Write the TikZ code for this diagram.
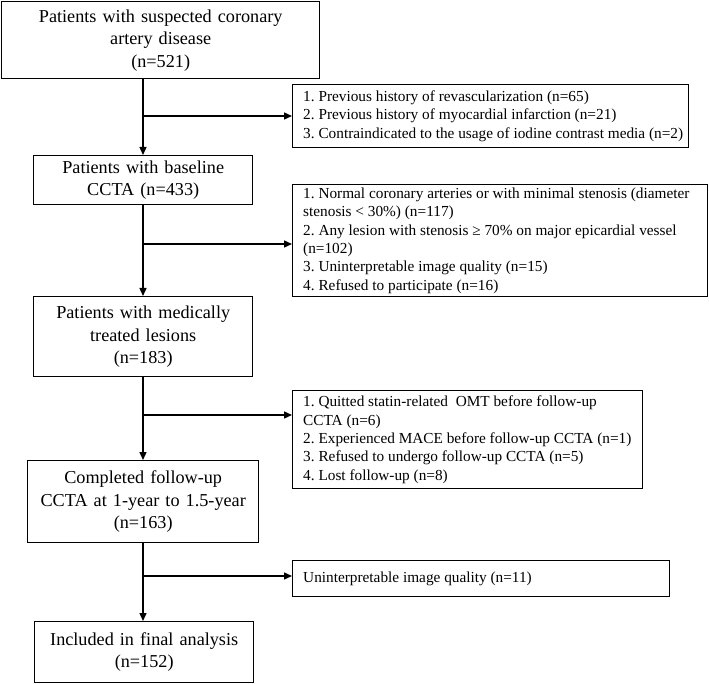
\documentclass[tikz,border=0pt]{standalone}
\usepackage{fontspec}
\setmainfont{Liberation Serif}
\usetikzlibrary{arrows.meta}
\tikzset{
  mainbox/.style={draw, line width=1.4pt, anchor=north west, align=center, inner xsep=4pt, inner ysep=0pt, font=\fontsize{18.2}{22.5}\selectfont\frenchspacing},
  exbox/.style={draw, line width=1.4pt, anchor=north west, inner sep=0pt},
  extext/.style={anchor=west, align=left, inner sep=0pt, font=\fontsize{15.3}{18.4}\selectfont\frenchspacing},
  flow/.style={line width=1.4pt},
  arr/.style={line width=1.4pt, -{Triangle[length=8pt,width=7pt]}}
}
\begin{document}
\begin{tikzpicture}[x=1pt,y=-1pt]
\useasboundingbox (0,0) rectangle (709,684);
% main column
\node[mainbox, text width=310pt, minimum height=77pt] (box1) at (1,1) {Patients with suspected coronary\\artery disease\\(n=521)};
\node[mainbox, text width=211pt, minimum height=49pt] (box2) at (33,155) {Patients with baseline\\CCTA (n=433)};
\node[mainbox, text width=211pt, minimum height=80pt] (box3) at (33,296) {Patients with medically\\treated lesions\\(n=183)};
\node[mainbox, text width=223pt, minimum height=82pt] (box4) at (27,460) {Completed follow-up\\CCTA at 1-year to 1.5-year\\(n=163)};
\node[mainbox, text width=211pt, minimum height=61pt] (box5) at (34,621) {Included in final analysis\\(n=152)};
% exclusion boxes
\node[exbox, minimum width=396pt, minimum height=63pt] (ex1) at (292,84) {};
\node[extext] (ex1t) at ([xshift=11pt]ex1.west) {1. Previous history of revascularization (n=65)\\2. Previous history of myocardial infarction (n=21)\\3. Contraindicated to the usage of iodine contrast media (n=2)};
\node[exbox, minimum width=415pt, minimum height=112pt] (ex2) at (292,184) {};
\node[extext] (ex2t) at ([xshift=11pt]ex2.west) {1. Normal coronary arteries or with minimal stenosis (diameter\\stenosis < 30\%) (n=117)\\2. Any lesion with stenosis ≥ 70\% on major epicardial vessel\\(n=102)\\3. Uninterpretable image quality (n=15)\\4. Refused to participate (n=16)};
\node[exbox, minimum width=350pt, minimum height=98pt] (ex3) at (292,390) {};
\node[extext] (ex3t) at ([xshift=11pt]ex3.west) {1. Quitted statin-related\ \ OMT before follow-up\\CCTA (n=6)\\2. Experienced MACE before follow-up CCTA (n=1)\\3. Refused to undergo follow-up CCTA (n=5)\\4. Lost follow-up (n=8)};
\node[exbox, minimum width=377pt, minimum height=36pt] (ex4) at (292,560) {};
\node[extext] (ex4t) at ([xshift=11pt]ex4.west) {Uninterpretable image quality (n=11)};
% branch points
\coordinate (b1) at (143,116);
\coordinate (b2) at (143,244);
\coordinate (b3) at (143,415);
\coordinate (b4) at (143,576);
% connectors
\draw[flow] (box1.south -| b1) -- (b1);
\draw[arr] (b1) -- (box2.north -| b1);
\draw[arr] (b1) -- (ex1.west |- b1);
\draw[flow] (box2.south -| b2) -- (b2);
\draw[arr] (b2) -- (box3.north -| b2);
\draw[arr] (b2) -- (ex2.west |- b2);
\draw[flow] (box3.south -| b3) -- (b3);
\draw[arr] (b3) -- (box4.north -| b3);
\draw[arr] (b3) -- (ex3.west |- b3);
\draw[flow] (box4.south -| b4) -- (b4);
\draw[arr] (b4) -- (box5.north -| b4);
\draw[arr] (b4) -- (ex4.west |- b4);
\end{tikzpicture}
\end{document}
